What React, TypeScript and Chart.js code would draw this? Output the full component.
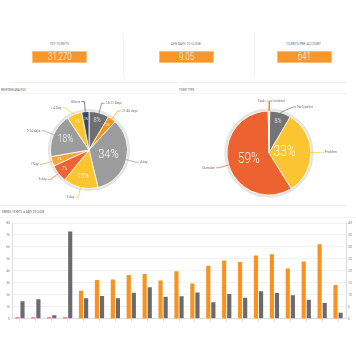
import React, { useEffect, useRef } from "react";
import { Chart, registerables } from "chart.js";
Chart.register(...registerables);

const FONT = "Roboto, 'Open Sans', 'DejaVu Sans', sans-serif";

// ---------- data ----------
const kpiTitles = ["TOT TICKETS", "AVG DAYS TO CLOSE", "TICKETS PER ACCOUNT"];
const kpiValues = ["31,270", "9.05", "641"];

const responseLabels = ["14-21 Days", "21-45 days", "4 day", "5 day", "6 day", "7 Day", "7-14 days", "< 4 Day", "Others"];
const responseValues = [8.4, 3.4, 34.2, 14.6, 7.3, 4.0, 18.3, 6.3, 3.0];

const typeLabels = ["Incident", "NoTypeSet", "Problem", "Question", "Task"];
const typeValues = [0.3, 8.2, 32.8, 58.8, 0.3];

const trendCategories = ["1", "2", "3", "4", "5", "6", "7", "8", "9", "10", "11", "12", "13", "14", "15", "16", "17", "18", "19", "20", "21"];
const trendTickets = [150, 150, 150, 150, 2340, 3250, 3290, 3660, 3740, 3200, 3970, 2950, 4440, 4880, 4740, 5290, 5400, 4210, 4790, 6220, 2830];
const trendDays = [7.3, 8.2, 1.5, 36.5, 8.6, 9.5, 8.6, 10.9, 13.2, 9.2, 9.4, 11.0, 6.9, 10.4, 8.8, 11.5, 10.8, 9.8, 8.0, 6.6, 2.5];
const ticketTickLabels = ["0", "1k", "2k", "3k", "4k", "5k", "6k", "7k", "8k"];
const dayTickLabels = ["0", "5", "10", "15", "20", "25", "30", "35", "40"];

// ---------- styles ----------
const responseColors = ["#6f6f6f", "#f7941d", "#9c9c9c", "#fcc52f", "#ee6331", "#f9a443", "#9c9c9c", "#fcc52f", "#3b4a64"];
const typeColors = ["#6f6f6f", "#747474", "#fbc531", "#ec6331", "#f9a443"];
const ORANGE = "#f7931e";
const GRAY = "#6b6b6b";

function condensedText(ctx: CanvasRenderingContext2D, text: string, x: number, y: number, align: CanvasTextAlign, font: string, color: string, sx: number) {
  ctx.save();
  ctx.translate(x, y);
  ctx.scale(sx, 1);
  ctx.font = font;
  ctx.fillStyle = color;
  ctx.textAlign = align;
  ctx.textBaseline = "middle";
  ctx.fillText(text, 0, 0);
  ctx.restore();
}

function makePiePlugin(cfg: { fontFor: (v: number) => number; fracFor: (v: number) => number; gap: number; minGap: number }) {
  return {
    id: "pieLabels",
    beforeDatasetsDraw(chart: any) {
      const ctx = chart.ctx;
      const arc = chart.getDatasetMeta(0).data[0];
      if (!arc) return;
      const p = arc.getProps(["x", "y", "outerRadius"], true);
      ctx.save();
      ctx.beginPath();
      ctx.arc(p.x, p.y, p.outerRadius + 1.3, 0, Math.PI * 2);
      ctx.strokeStyle = "#e4e4e4";
      ctx.lineWidth = 2.6;
      ctx.stroke();
      ctx.restore();
    },
    afterDatasetsDraw(chart: any) {
      const ctx: CanvasRenderingContext2D = chart.ctx;
      const meta = chart.getDatasetMeta(0);
      const ds = chart.data.datasets[0];
      const labels = chart.data.labels as string[];
      const items = meta.data.map((arc: any, i: number) => {
        const p = arc.getProps(["x", "y", "startAngle", "endAngle", "outerRadius"], true);
        const mid = (p.startAngle + p.endAngle) / 2;
        const R = p.outerRadius + cfg.gap;
        return { i, mid, cx: p.x, cy: p.y, r: p.outerRadius, R, right: Math.cos(mid) >= 0, x: p.x + Math.cos(mid) * R, y: p.y + Math.sin(mid) * R };
      });
      items.forEach((it: any) => {
        const v = ds.data[it.i] as number;
        const fs = cfg.fontFor(v);
        if (!fs) return;
        const rr = it.r * cfg.fracFor(v);
        condensedText(ctx, Math.round(v) + "%", it.cx + Math.cos(it.mid) * rr, it.cy + Math.sin(it.mid) * rr, "center", `300 ${fs}px ${FONT}`, "#ffffff", 0.82);
      });
      [true, false].forEach((side) => {
        const list = items.filter((it: any) => it.right === side).sort((a: any, b: any) => a.y - b.y);
        for (let k = 1; k < list.length; k++) {
          const prev = list[k - 1];
          const cur = list[k];
          if (cur.y - prev.y < cfg.minGap) {
            cur.y = prev.y + cfg.minGap;
            const dy = cur.y - cur.cy;
            const dx = Math.sqrt(Math.max(0, cur.R * cur.R - dy * dy));
            cur.x = cur.cx + (cur.right ? dx : -dx);
          }
        }
      });
      items.forEach((it: any) => {
        const color = (ds.backgroundColor as string[])[it.i];
        const sx = it.cx + Math.cos(it.mid) * it.r;
        const sy = it.cy + Math.sin(it.mid) * it.r;
        const dir = it.right ? 1 : -1;
        ctx.save();
        ctx.beginPath();
        ctx.moveTo(sx, sy);
        ctx.lineTo(it.x, it.y);
        ctx.lineTo(it.x + dir * 3, it.y);
        ctx.strokeStyle = color;
        ctx.lineWidth = 0.7;
        ctx.stroke();
        ctx.restore();
        condensedText(ctx, labels[it.i], it.x + dir * 4, it.y, it.right ? "left" : "right", `400 3.8px ${FONT}`, "#707070", 0.85);
      });
    },
  };
}

function ChartBox({ make, style }: { make: () => any; style: React.CSSProperties }) {
  const ref = useRef<HTMLCanvasElement>(null);
  useEffect(() => {
    const chart = new Chart(ref.current as HTMLCanvasElement, make());
    return () => chart.destroy();
  }, []);
  return (
    <div style={{ position: "absolute", ...style }}>
      <canvas ref={ref} style={{ display: "block" }} />
    </div>
  );
}

function pieConfig(labels: string[], values: number[], colors: string[], radius: number, plugin: any) {
  return {
    type: "pie",
    data: { labels, datasets: [{ data: values, backgroundColor: colors, borderColor: "#ffffff", borderWidth: 0.8, hoverOffset: 0 }] },
    options: {
      animation: false,
      responsive: true,
      maintainAspectRatio: false,
      radius,
      events: [],
      layout: { padding: 0 },
      plugins: { legend: { display: false }, tooltip: { enabled: false } },
    },
    plugins: [plugin],
  };
}

function barConfig() {
  const tickFont = { size: 3.6, family: FONT };
  return {
    type: "bar",
    data: {
      labels: trendCategories,
      datasets: [
        { label: "Tickets", data: trendTickets, yAxisID: "y", backgroundColor: ORANGE, borderWidth: 0, categoryPercentage: 0.64, barPercentage: 0.82 },
        { label: "Days to close", data: trendDays, yAxisID: "y1", backgroundColor: GRAY, borderWidth: 0, categoryPercentage: 0.64, barPercentage: 0.82 },
      ],
    },
    options: {
      animation: false,
      responsive: true,
      maintainAspectRatio: false,
      events: [],
      layout: { padding: { top: 6, left: 0, right: 0, bottom: 0 } },
      plugins: { legend: { display: false }, tooltip: { enabled: false } },
      scales: {
        x: {
          ticks: { display: false },
          grid: { display: true, drawOnChartArea: false, drawTicks: true, tickLength: 3, offset: false, color: "#cfcfcf", lineWidth: 0.6 },
          border: { display: true, color: "#dcdcdc" },
          afterFit: (s: any) => { s.height = 3; },
        },
        y: {
          position: "left",
          min: 0,
          max: 8000,
          ticks: { stepSize: 1000, font: tickFont, color: "#8a8a8a", padding: 2, callback: (v: number) => ticketTickLabels[Math.round(v / 1000)] },
          grid: { color: "#efefef", lineWidth: 0.8, drawTicks: false },
          border: { display: true, color: "#dcdcdc" },
          afterFit: (s: any) => { s.width = 12; },
        },
        y1: {
          position: "right",
          min: 0,
          max: 40,
          ticks: { stepSize: 5, font: tickFont, color: "#8a8a8a", padding: 2, callback: (v: number) => dayTickLabels[Math.round(v / 5)] },
          grid: { drawOnChartArea: false, drawTicks: false },
          border: { display: true, color: "#dcdcdc" },
          afterFit: (s: any) => { s.width = 10; },
        },
      },
    },
  };
}

function Txt({ x, y, size, color, align = "left", sx = 0.85, weight = 400, children }: any) {
  const w = 200;
  const left = align === "center" ? x - w / 2 : align === "right" ? x - w : x;
  return (
    <div style={{ position: "absolute", left, top: y - size, width: w, height: size * 2, lineHeight: `${size * 2}px`, textAlign: align, fontSize: size, color, fontFamily: FONT, fontWeight: weight, whiteSpace: "nowrap" }}>
      <span style={{ display: "inline-block", transform: `scaleX(${sx})`, transformOrigin: align === "center" ? "center" : align === "right" ? "right" : "left" }}>{children}</span>
    </div>
  );
}

function Line({ x, y, w, h, c }: any) {
  return <div style={{ position: "absolute", left: x, top: y, width: w, height: h, background: c }} />;
}

const kpiCenters = [59.5, 186.2, 304];
const kpiBoxWidth = 55;

export default function App() {
  return (
    <div style={{ position: "absolute", left: 0, top: 0, width: 356, height: 356, background: "#ffffff", overflow: "hidden" }}>
      <Line x={122.5} y={33} w={1} h={44} c="#f1f1f1" />
      <Line x={254} y={33} w={1} h={44} c="#f1f1f1" />
      {kpiTitles.map((t, i) => (
        <React.Fragment key={t}>
          <Txt x={kpiCenters[i]} y={44} size={3.8} color="#6a6a6a" align="center" sx={0.85}>{t}</Txt>
          <div style={{ position: "absolute", left: kpiCenters[i] - kpiBoxWidth / 2, top: 50.7, width: kpiBoxWidth, height: 12.6, boxSizing: "border-box", background: "#f7962a", border: "0.8px solid #fbbd78" }} />
          <Txt x={kpiCenters[i]} y={57.2} size={10} color="#ffffff" align="center" sx={0.8} weight={300}>{kpiValues[i]}</Txt>
        </React.Fragment>
      ))}
      <Line x={10} y={81.5} w={168} h={1} c="#efefef" />
      <Line x={181} y={81.5} w={166} h={1} c="#efefef" />

      <Txt x={1} y={90} size={3} color="#555" sx={0.85}>RESPONSE ANALYSIS</Txt>
      <Txt x={179} y={90} size={3} color="#555" sx={0.85}>TICKET TYPE</Txt>
      <Line x={0} y={93} w={178} h={1} c="#f4f4f4" />
      <Line x={179} y={93} w={168} h={1} c="#f4f4f4" />
      <ChartBox
        style={{ left: 0, top: 95, width: 178, height: 110 }}
        make={() =>
          pieConfig(responseLabels, responseValues, responseColors, 38.5,
            makePiePlugin({
              fontFor: (v) => (v >= 30 ? 13.5 : v >= 17 ? 10 : v >= 12 ? 7.8 : v >= 8 ? 6.8 : v >= 6 ? 5 : v >= 2 ? 3.8 : 0),
              fracFor: (v) => (v >= 30 ? 0.52 : v >= 15 ? 0.66 : v >= 12 ? 0.7 : 0.8),
              gap: 10,
              minGap: 6,
            }))
        }
      />
      <ChartBox
        style={{ left: 182, top: 95, width: 174, height: 116 }}
        make={() =>
          pieConfig(typeLabels, typeValues, typeColors, 42,
            makePiePlugin({
              fontFor: (v) => (v >= 30 ? 14.5 : v >= 8 ? 6.5 : v >= 2 ? 3.8 : 0),
              fracFor: (v) => (v >= 50 ? 0.5 : v >= 30 ? 0.37 : 0.79),
              gap: 10,
              minGap: 6,
            }))
        }
      />
      <Line x={0} y={204.5} w={178} h={1} c="#eeeeee" />
      <Line x={179} y={204.5} w={168} h={1} c="#eeeeee" />

      <Txt x={2} y={211.5} size={3} color="#555" sx={0.85}>TRENDS TICKETS vs DAYS TO CLOSE</Txt>
      <Line x={0} y={216.5} w={356} h={1} c="#f4f4f4" />
      <ChartBox style={{ left: 0, top: 217, width: 356, height: 106 }} make={barConfig} />
    </div>
  );
}
